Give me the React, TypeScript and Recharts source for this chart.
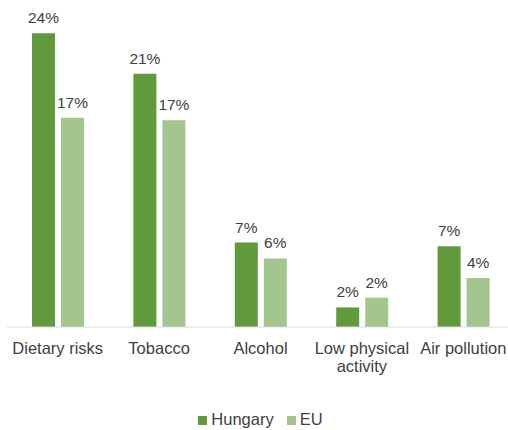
import { BarChart, Bar, XAxis, YAxis, LabelList, Legend, Text } from 'recharts'

const FONT = '"Liberation Sans", Arial, sans-serif'
const HUNGARY_COLOR = '#619a3c'
const EU_COLOR = '#a3c68f'
const TEXT_COLOR = '#404040'

const categories = ['Dietary risks', 'Tobacco', 'Alcohol', 'Low physical activity', 'Air pollution']
const hungaryValues = [24, 20.7, 6.9, 1.6, 6.6]
const euValues = [17.1, 16.9, 5.6, 2.4, 4.0]

const data = categories.map((name, i) => ({
  name,
  hungary: hungaryValues[i],
  eu: euValues[i],
}))

function CategoryTick(props: any) {
  const { x, y, payload } = props
  return (
    <Text
      x={x}
      y={y}
      width={100}
      textAnchor="middle"
      verticalAnchor="start"
      lineHeight={18}
      fill={TEXT_COLOR}
      style={{ fontSize: 16.5, fontFamily: FONT }}
    >
      {payload.value}
    </Text>
  )
}

function LegendContent() {
  const items = [
    { label: 'Hungary', color: HUNGARY_COLOR },
    { label: 'EU', color: EU_COLOR },
  ]
  return (
    <div
      style={{
        textAlign: 'center',
        fontFamily: FONT,
        fontSize: 16.5,
        lineHeight: '22px',
        paddingTop: 3,
        color: TEXT_COLOR,
        whiteSpace: 'nowrap',
      }}
    >
      {items.map((it, i) => (
        <span key={it.label} style={{ marginRight: i === 0 ? 13 : 0 }}>
          <span style={{ display: 'inline-block', width: 9, height: 9, background: it.color }} />
          <span style={{ marginLeft: 4 }}>{it.label}</span>
        </span>
      ))}
    </div>
  )
}

export default function App() {
  return (
    <div
      style={{
        position: 'absolute',
        left: 0,
        top: 0,
        width: 508,
        height: 430,
        overflow: 'hidden',
        background: '#fff',
      }}
    >
      <BarChart
        width={514}
        height={430}
        data={data}
        margin={{ top: 21, right: 0, left: 7, bottom: 0 }}
        barSize={23}
        barGap={6}
      >
        <XAxis
          dataKey="name"
          interval={0}
          height={78}
          tickLine={false}
          tickSize={0}
          tickMargin={15}
          axisLine={{ stroke: '#d9d9d9', strokeWidth: 1 }}
          tick={<CategoryTick />}
        />
        <YAxis hide domain={[0, 25]} />
        <Legend verticalAlign="bottom" content={() => <LegendContent />} />
        <Bar dataKey="hungary" name="Hungary" fill={HUNGARY_COLOR} isAnimationActive={false}>
          <LabelList
            dataKey="hungary"
            position="top"
            offset={10}
            formatter={(v: any) => `${Math.round(Number(v))}%`}
            fill={TEXT_COLOR}
            style={{ fontSize: 15.5, fontFamily: FONT }}
          />
        </Bar>
        <Bar dataKey="eu" name="EU" fill={EU_COLOR} isAnimationActive={false}>
          <LabelList
            dataKey="eu"
            position="top"
            offset={10}
            formatter={(v: any) => `${Math.round(Number(v))}%`}
            fill={TEXT_COLOR}
            style={{ fontSize: 15.5, fontFamily: FONT }}
          />
        </Bar>
      </BarChart>
    </div>
  )
}
